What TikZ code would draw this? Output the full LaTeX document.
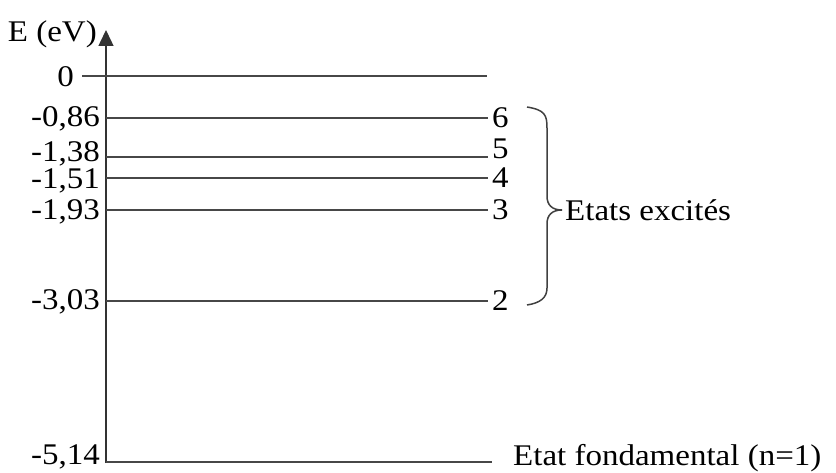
\documentclass[tikz,border=0pt]{standalone}
\usepackage{fontspec}
\setmainfont{Liberation Serif}[FakeStretch=1.1]
\usetikzlibrary{arrows.meta, positioning}
\tikzset{
  level/.style={line width=1.7pt, black!72},
  txt/.style={inner sep=0pt, font=\fontsize{30}{30}\selectfont},
  val/.style={txt, anchor=east},
}
\begin{document}
\begin{tikzpicture}[x=1pt, y=-1pt]
  \useasboundingbox (0,0) rectangle (836,473);
  \coordinate (base) at (106,463);
  \coordinate (top) at (106,30);
  \draw[line width=1.4pt, black!80, -{Triangle[width=15pt,length=16pt]}] (base) -- (top);
  \node[txt, anchor=east] (E) at (97,34) {E (eV)};

  \coordinate (s0) at (82,76);
  \coordinate (e0) at (487,76);
  \draw[level] (s0) -- (e0);
  \node[val] (v0) at (74,77) {0};

  \foreach \y/\v/\n/\vy/\ny in {118/{-0,86}/6/119/118, 157/{-1,38}/5/154/149, 178/{-1,51}/4/181/178, 210/{-1,93}/3/212/210, 301/{-3,03}/2/302/301}{
    \coordinate (s\n) at (106,\y);
    \coordinate (e\n) at (488,\y);
    \draw[level] (s\n) -- (e\n);
    \node[val] (v\n) at (100,\vy) {\v};
    \node[txt, anchor=west] (n\n) at (492,\ny) {\n};
  }

  \coordinate (s1) at (106,462);
  \coordinate (e1) at (492,462);
  \draw[level] (s1) -- (e1);
  \node[val] (v1) at (100,457) {-5,14};
  \node[txt, anchor=west] (n1) at (513,458) {Etat fondamental (n=1)};

  \coordinate (btop) at (527,107);
  \coordinate (tip) at (562,210);
  \coordinate (bbot) at (527,305);
  \draw[line width=1.5pt, black!75]
    (btop) .. controls (545,110) and (547,115) .. (547,128)
    -- (547,196) .. controls (547,205) and (552,210) .. (tip)
    .. controls (552,210) and (547,215) .. (547,224)
    -- (547,288) .. controls (547,298) and (540,303) .. (bbot);
  \node[txt, anchor=west] (exc) at (565,210) {Etats excités};
\end{tikzpicture}
\end{document}
